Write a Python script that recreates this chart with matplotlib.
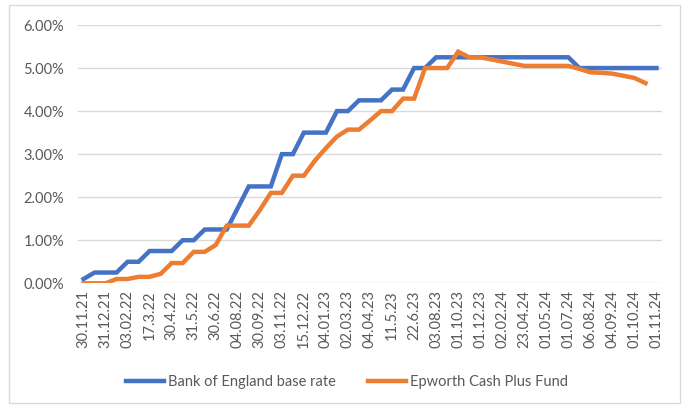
import matplotlib
matplotlib.use("Agg")
import matplotlib.pyplot as plt
import numpy as np
from matplotlib.patches import Rectangle
from matplotlib.ticker import FuncFormatter

# date labels (shown on every second data point)
date_labels = [
    "30.11.21", "31.12.21", "03.02.22", "17.3.22", "30.4.22", "31.5.22",
    "30.6.22", "04.08.22", "30.09.22", "03.11.22", "15.12.22", "04.01.23",
    "02.03.23", "04.04.23", "11.5.23", "22.6.23", "03.08.23", "01.10.23",
    "01.12.23", "02.02.24", "23.04.24", "01.05.24", "01.07.24", "06.08.24",
    "04.09.24", "01.10.24", "01.11.24",
]

# rates in %
boe_rate = [
    0.10, 0.25, 0.25, 0.25, 0.50, 0.50, 0.75, 0.75, 0.75, 1.00,
    1.00, 1.25, 1.25, 1.25, 1.75, 2.25, 2.25, 2.25, 3.00, 3.00,
    3.50, 3.50, 3.50, 4.00, 4.00, 4.25, 4.25, 4.25, 4.50, 4.50,
    5.00, 5.00, 5.25, 5.25, 5.25, 5.25, 5.25, 5.25, 5.25, 5.25,
    5.25, 5.25, 5.25, 5.25, 5.25, 5.00, 5.00, 5.00, 5.00, 5.00,
    5.00, 5.00, 5.00,
]
epworth_fund = [
    0.00, 0.00, 0.00, 0.10, 0.10, 0.15, 0.15, 0.22, 0.47, 0.47,
    0.73, 0.73, 0.89, 1.34, 1.34, 1.34, 1.70, 2.10, 2.10, 2.50,
    2.50, 2.85, 3.14, 3.41, 3.57, 3.57, 3.78, 4.00, 4.00, 4.29,
    4.29, 5.00, 5.00, 5.00, 5.38, 5.25, 5.25, 5.20, 5.15, 5.10,
    5.05, 5.05, 5.05, 5.05, 5.05, 4.98, 4.90, 4.89, 4.87, 4.82,
    4.77, 4.65,
]

plt.rcParams["font.family"] = ["Lato", "DejaVu Sans"]
text_col = "#595959"
grid_col = "#D9D9D9"

fig = plt.figure(figsize=(6.85, 4.07), dpi=100)
W, H = 685, 407
ax = fig.add_axes([78 / W, 1 - 283.3 / H, (662 - 78) / W, (283.3 - 25) / H])

x = np.arange(len(boe_rate))
ax.plot(x, boe_rate, color="#4472C4", lw=3.2, label="Bank of England base rate",
        solid_joinstyle="miter")
ax.plot(np.arange(len(epworth_fund)), epworth_fund, color="#ED7D31", lw=3.2,
        label="Epworth Cash Plus Fund", solid_joinstyle="miter")

ax.set_xlim(-0.5, len(boe_rate) - 0.5)
ax.set_ylim(0, 6)
ax.set_yticks(np.arange(0, 7, 1))
ax.yaxis.set_major_formatter(FuncFormatter(lambda v, p: f"{v:.2f}%"))
ax.set_xticks(np.arange(0, len(boe_rate), 2))
ax.set_xticklabels(date_labels, rotation=90)
ax.tick_params(axis="both", length=0, labelsize=10.5, colors=text_col)
ax.tick_params(axis="y", pad=10)
ax.tick_params(axis="x", pad=5)
ax.grid(axis="y", color=grid_col, lw=1)
ax.set_axisbelow(True)
for s in ax.spines.values():
    s.set_visible(False)

leg = fig.legend(loc="center", bbox_to_anchor=(347 / W, 1 - 382 / H), ncol=2,
                 frameon=False, fontsize=10.5, handlelength=2.6,
                 handletextpad=0.3, columnspacing=2.2)
for t in leg.get_texts():
    t.set_color(text_col)

# chart border
fig.patches.append(Rectangle((9 / W, 1 - 403 / H), (680 - 9) / W, (403 - 5) / H,
                             transform=fig.transFigure, fill=False,
                             edgecolor=grid_col, lw=1))

fig.savefig("out.png", dpi=100)
